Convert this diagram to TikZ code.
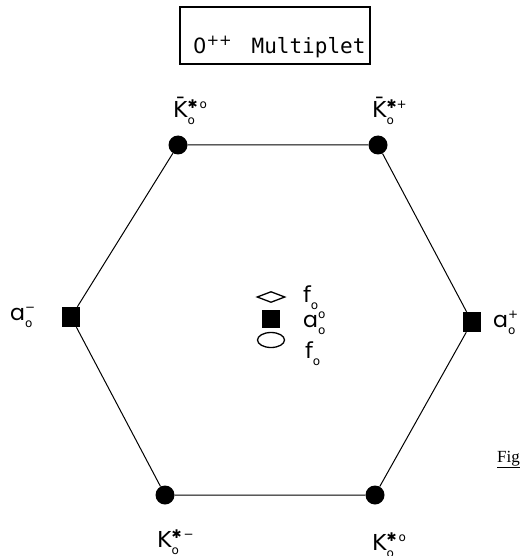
\documentclass[tikz,border=0pt]{standalone}
\usepackage{fontspec}
\setmainfont{DejaVu Sans}
\newfontfamily\monof{DejaVu Sans Mono}
\newfontfamily\serf{Liberation Serif}
\newfontfamily\af{Poppins}
\usetikzlibrary{shapes.geometric}
\newcommand{\lbsize}{\fontsize{22}{22}\selectfont}
\newcommand{\smsize}{\fontsize{12}{12}\selectfont}
\newcommand{\supsub}[2]{\raisebox{-7pt}{\vbox{\smsize\baselineskip=16pt\lineskiplimit=-20pt\lineskip=0pt\hbox{#1}\hbox{#2}}}}
\newcommand{\subonly}[1]{\raisebox{-7pt}{\smsize #1}}
\begin{document}
\begin{tikzpicture}[x=1pt,y=-1pt,
  dot/.style={circle,fill=black,inner sep=0pt,minimum size=19pt},
  sq/.style={rectangle,fill=black,inner sep=0pt,minimum width=18pt,minimum height=20pt},
  hexedge/.style={line width=1pt},
  lab/.style={inner sep=0pt,anchor=base west,font=\lbsize}]
\useasboundingbox (0,0) rectangle (523,556);
% title
\node[draw,line width=1.2pt,minimum width=190pt,minimum height=57pt,inner sep=0pt] (title) at (275,35.5) {};
\node[anchor=base west,inner sep=0pt,font=\fontsize{21}{21}\selectfont] (ttext) at (193,54) {0\raisebox{8pt}{\fontsize{15}{15}\selectfont ++}\hspace{0.95em}{\monof Multiplet}};
% vertices
\node[dot] (kb0) at (178,145) {};
\node[dot] (kbp) at (378,145) {};
\node[sq] (am) at (71,317) {};
\node[sq] (ap) at (472,322) {};
\node[dot] (km) at (165,495) {};
\node[dot] (k0) at (375,495) {};
\draw[hexedge] (kb0) -- (kbp) -- (ap) -- (k0) -- (km) -- (am) -- (kb0);
% centre
\node[draw,diamond,line width=1.3pt,minimum width=28pt,minimum height=11pt,inner sep=0pt,aspect=2.5] (f0a) at (271,297) {};
\node[sq,minimum height=18pt] (a00) at (271,319) {};
\node[draw,ellipse,line width=1.3pt,minimum width=27pt,minimum height=15pt,inner sep=0pt] (f0b) at (271,340) {};
% labels
\node[lab] (lkb0) at (173,118) {\=K\supsub{✱\,o}{o}};
\node[lab] (lkbp) at (372,118) {\=K\supsub{✱+}{o}};
\node[lab] (lam) at (10,320) {{\af a}\supsub{−}{o}};
\node[lab] (lap) at (493,327) {{\af a}\supsub{+}{o}};
\node[lab] (lkm) at (157,547) {K\supsub{✱\,−}{o}};
\node[lab] (lk0) at (372,550) {K\supsub{✱\,o}{o}};
\node[lab] (lf1) at (303,302) {f\subonly{o}};
\node[lab] (la0) at (303,327) {{\af a}\supsub{o}{o}};
\node[lab] (lf2) at (305,358) {f\subonly{o}};
\node[anchor=base west,inner sep=0pt,font=\serf\fontsize{17}{17}\selectfont] (fig) at (497,462) {\underline{Fig}};
\end{tikzpicture}
\end{document}
